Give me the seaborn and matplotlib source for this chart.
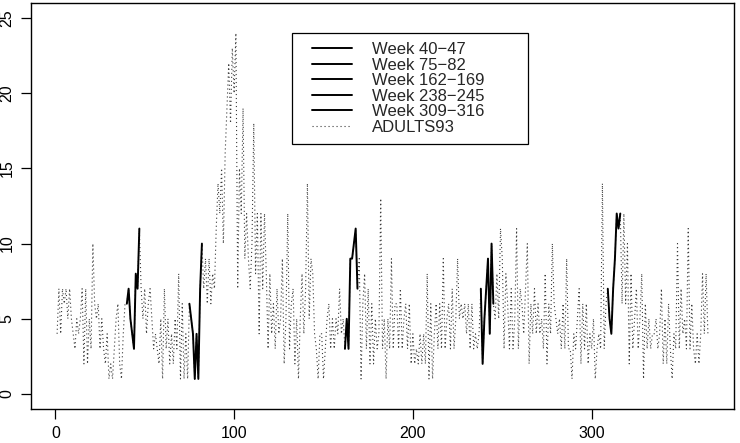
import numpy as np
import pandas as pd
import matplotlib
matplotlib.use("Agg")
import matplotlib.pyplot as plt
from matplotlib.lines import Line2D
from matplotlib.legend_handler import HandlerLine2D
import seaborn as sns

# ---- data: daily counts ADULTS93 (index 1..365) ----
adults_001_039 = [4, 7, 4, 7, 6, 7, 5, 7, 5, 4, 3, 5, 4, 5, 7, 2, 7, 2, 5, 3,
                  10, 6, 5, 6, 3, 5, 3, 2, 4, 1, 2, 1, 3, 5, 6, 2, 1, 4, 6]
adults_040_047 = [6, 7, 5, 4, 3, 8, 7, 11]
adults_048_074 = [7, 5, 7, 4, 6, 7, 5, 3, 4, 3, 2, 5, 1, 7, 3, 5, 2, 4, 2, 5,
                  3, 8, 1, 6, 1, 4, 1]
adults_075_082 = [6, 5, 4, 1, 4, 1, 7, 10]
adults_083_112 = [7, 9, 6, 9, 6, 8, 7, 11, 14, 12, 15, 10, 16, 19, 22, 18, 23, 20,
                  24, 7, 15, 12, 19, 9, 12, 9, 7, 10, 18, 8]
adults_113_161 = [12, 4, 12, 7, 12, 8, 3, 8, 4, 6, 3, 7, 4, 5, 9, 2, 5, 12, 3, 6,
                  7, 2, 5, 1, 5, 8, 4, 7, 14, 5, 9, 8, 4, 3, 1, 4, 4, 1, 3, 5,
                  6, 3, 5, 3, 5, 4, 7, 4, 5]
adults_162_169 = [3, 5, 3, 9, 9, 10, 11, 7]
adults_170_237 = [9, 1, 6, 8, 3, 7, 2, 6, 2, 5, 3, 4, 13, 3, 5, 1, 5, 3, 9, 3,
                  6, 6, 3, 7, 3, 5, 6, 3, 6, 2, 4, 2, 3, 2, 4, 2, 4, 2, 8, 1,
                  6, 1, 4, 6, 3, 6, 3, 9, 3, 5, 6, 3, 7, 3, 5, 9, 5, 6, 5, 6,
                  4, 6, 3, 6, 3, 4, 3, 4]
adults_238_245 = [7, 2, 5, 7, 9, 4, 10, 6]
adults_246_308 = [5, 8, 5, 11, 9, 3, 8, 6, 3, 7, 3, 5, 11, 3, 7, 6, 4, 7, 10, 2,
                  6, 4, 7, 4, 6, 4, 5, 3, 8, 2, 6, 4, 10, 6, 5, 4, 5, 3, 6, 3,
                  9, 3, 3, 1, 4, 3, 5, 7, 2, 6, 3, 6, 2, 4, 3, 5, 1, 3, 4, 3,
                  14, 3, 6]
adults_309_316 = [7, 5, 4, 7, 9, 12, 11, 12]
adults_317_365 = [6, 12, 6, 10, 2, 8, 3, 5, 7, 3, 5, 8, 1, 6, 3, 5, 3, 4, 4, 5,
                  3, 4, 7, 2, 5, 2, 6, 3, 1, 4, 3, 10, 3, 7, 4, 5, 3, 11, 3, 6,
                  3, 2, 4, 2, 4, 8, 4, 8, 4]

week_starts = [40, 75, 162, 238, 309]
week_ends = [47, 82, 169, 245, 316]
week_labels = ["Week 40\u221247", "Week 75\u221282", "Week 162\u2212169",
               "Week 238\u2212245", "Week 309\u2212316"]
series_label = "ADULTS93"
x_ticks = [0, 100, 200, 300]
y_ticks = [0, 5, 10, 15, 20, 25]

adults = (adults_001_039 + adults_040_047 + adults_048_074 + adults_075_082 +
          adults_083_112 + adults_113_161 + adults_162_169 + adults_170_237 +
          adults_238_245 + adults_246_308 + adults_309_316 + adults_317_365)
df = pd.DataFrame({"day": np.arange(1, len(adults) + 1), "count": adults})

# ---- style ----
sns.set_style("ticks")
plt.rcParams["font.family"] = ["Liberation Sans", "DejaVu Sans"]

fig = plt.figure(figsize=(7.4, 4.43), dpi=100)
ax = fig.add_axes([31 / 740, 1 - 409 / 443, (734 - 31) / 740, (409 - 3) / 443])

sns.lineplot(data=df, x="day", y="count", ax=ax, color="#3a3a3a", lw=0.8,
             linestyle=(0, (1, 2.6)), estimator=None, label=series_label)
for a, b, lab in zip(week_starts, week_ends, week_labels):
    sub = df[(df["day"] >= a) & (df["day"] <= b)]
    sns.lineplot(data=sub, x="day", y="count", ax=ax, color="black", lw=1.4,
                 estimator=None, label=lab)

ax.set_xlim(-13.6, 379.6)
ax.set_ylim(-1.0, 26.0)
ax.set_xticks(x_ticks)
ax.set_yticks(y_ticks)
ax.set_xlabel("")
ax.set_ylabel("")
ax.tick_params(axis="both", direction="out", length=7, width=0.9,
               color="black", labelsize=11.5, labelcolor="black", pad=5,
               bottom=True, left=True)
plt.setp(ax.get_yticklabels(), rotation=90, va="center")
for s in ax.spines.values():
    s.set_visible(True)
    s.set_color("black")
    s.set_linewidth(1.0)

handles, labels = ax.get_legend_handles_labels()
order = [labels.index(l) for l in week_labels] + [labels.index(series_label)]
fs = 12
leg = ax.legend([handles[i] for i in order], [labels[i] for i in order],
                loc="upper left",
                bbox_to_anchor=(292 / 740, 1 - 145 / 443, 236 / 740, 112 / 443),
                bbox_transform=fig.transFigure, mode="expand", borderaxespad=0,
                frameon=True, fancybox=False, framealpha=1, edgecolor="black",
                fontsize=fs, borderpad=0.55, labelspacing=0.03,
                handlelength=3.05, handletextpad=1.2,
                handler_map={Line2D: HandlerLine2D(xpad=0.65)})
leg.get_frame().set_linewidth(0.9)

fig.savefig("out.png", dpi=100)
